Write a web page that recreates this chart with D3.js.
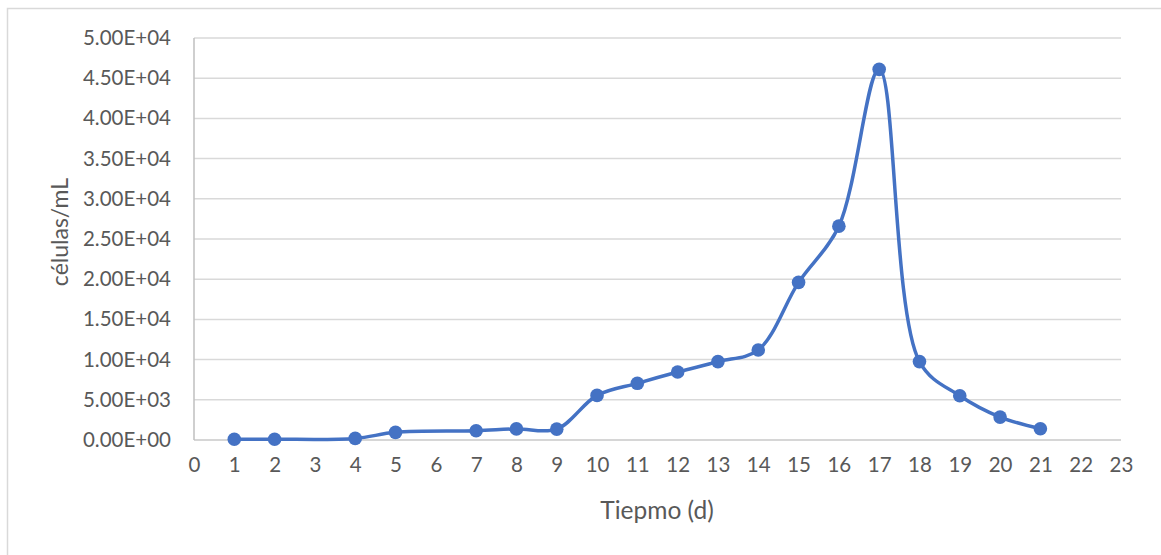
<!DOCTYPE html>
<html>
<head>
<meta charset="utf-8">
<script src="https://cdn.jsdelivr.net/npm/d3@7"></script>
<style>
  html, body { margin: 0; padding: 0; background: #fff; }
  svg { display: block; }
  text { font-family: Lato, "Open Sans", sans-serif; fill: #595959; }
</style>
</head>
<body>
<svg id="chart" width="1161" height="555"></svg>
<script>
// Cell counts over time (days)
const days = [1, 2, 4, 5, 7, 8, 9, 10, 11, 12, 13, 14, 15, 16, 17, 18, 19, 20, 21];
const cells = [100, 100, 200, 950, 1150, 1380, 1350, 5550, 7050, 8450, 9750, 11200, 19600, 26600, 46100, 9750, 5500, 2850, 1400];
const xTicks = d3.range(0, 24);
const yTicks = [0, 5000, 10000, 15000, 20000, 25000, 30000, 35000, 40000, 45000, 50000];
const xTitle = "Tiepmo (d)";
const yTitle = "células/mL";

const W = 1161, H = 555;
const plot = { left: 194, right: 1121, top: 38, bottom: 440 };

const svg = d3.select("#chart");

// chart frame
svg.append("rect")
  .attr("x", 7.5).attr("y", 8.5)
  .attr("width", W + 20).attr("height", H + 20)
  .attr("fill", "#fff").attr("stroke", "#d9d9d9").attr("stroke-width", 1.5);

const x = d3.scaleLinear().domain([0, 23]).range([plot.left, plot.right]);
const y = d3.scaleLinear().domain([0, 50000]).range([plot.bottom, plot.top]);

// horizontal gridlines
svg.append("g")
  .selectAll("line")
  .data(yTicks.slice(1))
  .join("line")
  .attr("x1", plot.left).attr("x2", plot.right)
  .attr("y1", d => y(d)).attr("y2", d => y(d))
  .attr("stroke", "#d9d9d9").attr("stroke-width", 1.5);

// axis lines
svg.append("line")
  .attr("x1", plot.left).attr("x2", plot.right)
  .attr("y1", y(0)).attr("y2", y(0))
  .attr("stroke", "#c8c8c8").attr("stroke-width", 1.5);
svg.append("line")
  .attr("x1", plot.left).attr("x2", plot.left)
  .attr("y1", y(0)).attr("y2", y(50000))
  .attr("stroke", "#bfbfbf").attr("stroke-width", 1.5);

// y axis labels in scientific notation, e.g. 5.00E+04
const yAxis = d3.axisLeft(y)
  .tickValues(yTicks)
  .tickSize(0)
  .tickPadding(23)
  .tickFormat(d => {
    const s = d.toExponential(2).toUpperCase();
    const [m, e] = s.split("E");
    const sign = e[0] === "-" ? "-" : "+";
    const digits = e.replace(/[+-]/, "").padStart(2, "0");
    return `${m}E${sign}${digits}`;
  });
svg.append("g")
  .attr("transform", `translate(${plot.left},0)`)
  .call(yAxis)
  .call(g => g.select(".domain").remove())
  .call(g => g.selectAll("text").attr("font-size", 20.5).attr("fill", "#595959")
    .attr("font-family", "Lato, 'Open Sans', sans-serif"));

// x axis labels
const xAxis = d3.axisBottom(x)
  .tickValues(xTicks)
  .tickSize(0)
  .tickPadding(17)
  .tickFormat(d3.format("d"));
svg.append("g")
  .attr("transform", `translate(0,${plot.bottom})`)
  .call(xAxis)
  .call(g => g.select(".domain").remove())
  .call(g => g.selectAll("text").attr("font-size", 20.5).attr("fill", "#595959")
    .attr("font-family", "Lato, 'Open Sans', sans-serif"));

// axis titles
svg.append("text")
  .attr("x", 657)
  .attr("y", 519)
  .attr("text-anchor", "middle")
  .attr("font-size", 24.5)
  .text(xTitle);
svg.append("text")
  .attr("transform", `translate(68,232) rotate(-90)`)
  .attr("text-anchor", "middle")
  .attr("font-size", 23)
  .text(yTitle);

// smoothed series line
const data = days.map((d, i) => ({ d, v: cells[i] }));
const line = d3.line()
  .x(p => x(p.d))
  .y(p => y(p.v))
  .curve(d3.curveCatmullRom.alpha(0.5));

svg.append("path")
  .datum(data)
  .attr("d", line)
  .attr("fill", "none")
  .attr("stroke", "#4472c4")
  .attr("stroke-width", 3.5)
  .attr("stroke-linejoin", "round");

// markers
svg.append("g")
  .selectAll("circle")
  .data(data)
  .join("circle")
  .attr("cx", p => x(p.d))
  .attr("cy", p => y(p.v))
  .attr("r", 6.8)
  .attr("fill", "#4472c4");
</script>
</body>
</html>
